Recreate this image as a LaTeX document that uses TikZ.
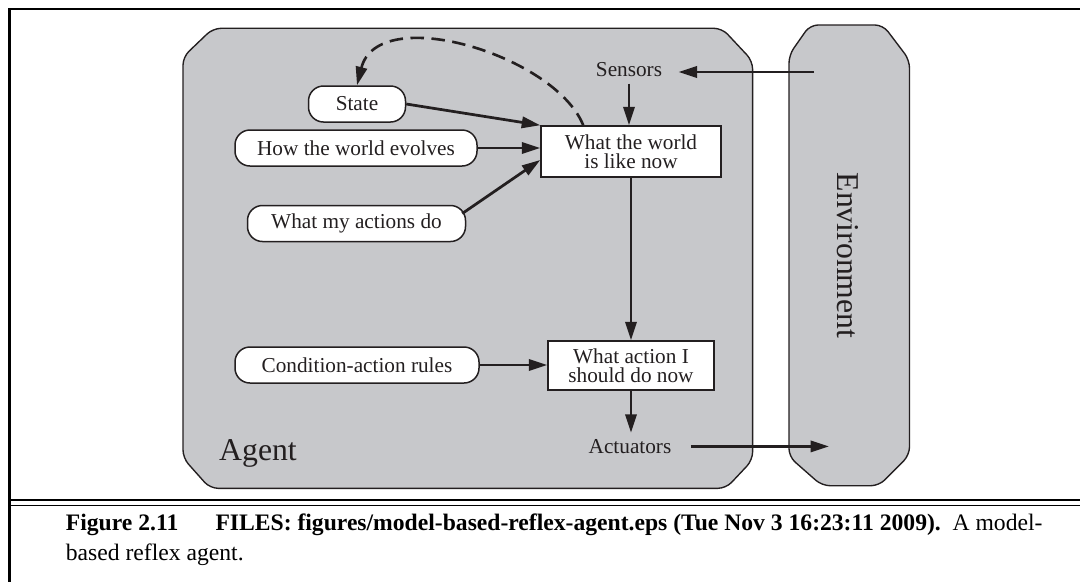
\documentclass[tikz,border=0pt]{standalone}
\usepackage{fontspec}
\setmainfont{Liberation Serif}
\usetikzlibrary{arrows.meta,calc}
\definecolor{ink}{HTML}{231F20}
\definecolor{panel}{RGB}{199,200,203}
\newcommand\ndfont{\fontsize{8.5}{7.8}\selectfont}
\newcommand\bigfont{\fontsize{12.7}{14}\selectfont}
\newcommand\capfont{\fontsize{9.45}{11.5}\selectfont}
\begin{document}
\begin{tikzpicture}[x=0.4pt,y=-0.4pt,
  pill/.style={draw=ink, fill=white, line width=0.6pt, rounded corners=6pt,
    minimum height=14.4pt, inner sep=0pt, font=\ndfont, text=ink},
  wbox/.style={draw=ink, fill=white, line width=0.6pt, inner sep=0pt,
    align=center, font=\ndfont, text=ink},
  lbl/.style={font=\ndfont, text=ink},
  arr/.style={draw=ink, line width=1.1pt, -{Triangle[length=7.4pt,width=4.5pt]}},
  dasharr/.style={draw=ink, line width=1.05pt, dash pattern=on 5.4pt off 3pt,
    -{Triangle[length=7.4pt,width=4.5pt]}},
  panelshape/.style={draw=ink, fill=panel, line width=0.55pt, rounded corners=3.2pt},
  framerule/.style={draw=black, line width=0.85pt},
  captext/.style={font=\capfont, text=black, inner sep=0pt}]
\useasboundingbox (0,0) rectangle (1080,582);

% frame
\draw[framerule] (1080,9) -- (9.5,9) -- (9.5,582);
\draw[framerule] (9.5,500) -- (1080,500);
\draw[black, line width=0.45pt] (9.5,505.5) -- (1080,505.5);

% agent panel
\draw[panelshape] (183,57) -- (213,28.3) -- (722,28.3) -- (752.6,61) -- (752.6,460)
  -- (726,488.3) -- (210,488.3) -- (183,458) -- cycle;
% environment panel
\draw[panelshape] (789,55) -- (810,25) -- (883,25) -- (909.5,60) -- (909.5,455)
  -- (879,485.7) -- (822,485.7) -- (789,456.7) -- cycle;

\node[font=\bigfont, text=ink, anchor=base west, inner sep=0pt] (agent) at (218.7,460) {Agent};
\node[font=\bigfont, text=ink, anchor=base, rotate=-90, inner sep=0pt] (env) at (837,255.5) {Environment};

% nodes
\node[pill, minimum width=38.8pt] (state) at (357,104) {State};
\node[pill, minimum width=96.8pt] (how) at (356,148) {How the world evolves};
\node[pill, minimum width=87.2pt] (acts) at (356.5,223.5) {What my actions do};
\node[pill, minimum width=97.6pt] (cond) at (357,365) {Condition-action rules};

\node[wbox, minimum width=72pt, minimum height=20.4pt] (world) at (631,151.5) {What the world\\is like now};
\node[wbox, minimum width=66.4pt, minimum height=19.6pt] (action) at (631,365.5) {What action I\\should do now};

\node[lbl, anchor=base, inner xsep=6.4pt, inner ysep=2.8pt] (sens) at (629,76) {Sensors};
\node[lbl, anchor=base, inner xsep=7.6pt, inner ysep=2.4pt] (actu) at (630,453.3) {Actuators};

\coordinate (envsrc) at (814,72);
\coordinate (envdst) at (829,447);

% connectors
\draw[arr] (envsrc) -- (envsrc -| sens.east);
\draw[arr] (sens.south) -- (sens.south |- world.north);
\draw[arr] (state.east) -- (world.north west);
\draw[arr] (how.east) -- (how.east -| world.west);
\draw[arr] ($(acts.east)+(-4,-10)$) -- ($(world.west)+(0,8.5)$);
\draw[arr] (world.south) -- (action.north);
\draw[arr] (cond.east) -- (cond.east -| action.west);
\draw[arr] (action.south) -- (action.south |- actu.north);
\draw[arr] (actu.east) -- (envdst |- actu.east);
\draw[dasharr] ($(world.north west)+(43,0)$) .. controls (555,55) and (378,2) .. (state.north);

% caption
\node[captext, anchor=base west] (fig) at (65.4,530) {\textbf{Figure 2.11}};
\node[captext, anchor=base west] (files) at (215,530) {\textbf{FILES: figures/model-based-reflex-agent.eps (Tue Nov 3 16:23:11 2009).}};
\node[captext, anchor=base east] (amod) at (1043,530) {A model-};
\node[captext, anchor=base west] (based) at (65.4,560) {based reflex agent.};
\end{tikzpicture}
\end{document}
